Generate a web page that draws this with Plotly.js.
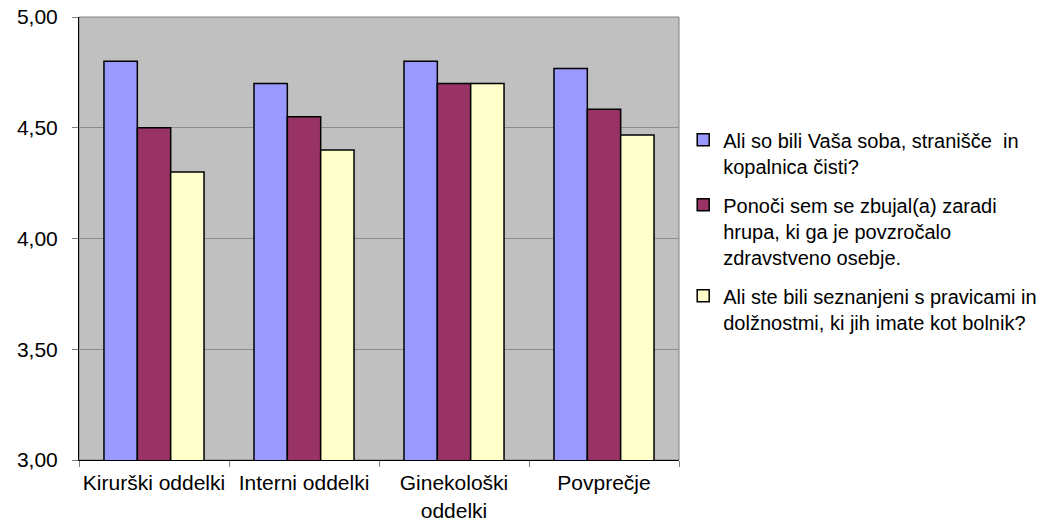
<!DOCTYPE html>
<html>
<head>
<meta charset="utf-8">
<script src="https://cdn.plot.ly/plotly-3.0.1.min.js"></script>
<style>html,body{margin:0;padding:0;background:#fff;}#chart{width:1046px;height:524px;}</style>
</head>
<body>
<div id="chart"></div>
<script>
const categories = ["Kirurški oddelki", "Interni oddelki", "Ginekološki<br>oddelki", "Povprečje"];
const seriesNames = [
  "Ali so bili Vaša soba, stranišče  in<br>kopalnica čisti?",
  "Ponoči sem se zbujal(a) zaradi<br>hrupa, ki ga je povzročalo<br>zdravstveno osebje.",
  "Ali ste bili seznanjeni s pravicami in<br>dolžnostmi, ki jih imate kot bolnik?"
];
const seriesClean = [4.80, 4.70, 4.80, 4.767];
const seriesNoise = [4.50, 4.55, 4.70, 4.583];
const seriesRights = [4.30, 4.40, 4.70, 4.467];
const colors = ["#9999FF", "#993366", "#FFFFCC"];

const allValues = [seriesClean, seriesNoise, seriesRights];
const traces = allValues.map((vals, i) => ({
  type: "bar",
  x: categories,
  y: vals,
  name: seriesNames[i],
  legendgroup: "g" + i,
  marker: {color: colors[i], line: {color: "#000000", width: 1.5}},
  hoverinfo: "y"
}));

const layout = {
  width: 1046, height: 524,
  margin: {l: 79, r: 367, t: 17, b: 64, autoexpand: false},
  paper_bgcolor: "#ffffff",
  plot_bgcolor: "#C0C0C0",
  separators: ",.",
  font: {family: "Liberation Sans, Arial, sans-serif", size: 20, color: "#000000"},
  bargap: 0.333, bargroupgap: 0,
  barmode: "group",
  xaxis: {
    showline: true, linecolor: "#000000", linewidth: 1,
    ticks: "outside", tickson: "boundaries", ticklen: 6, tickcolor: "#808080",
    ticklabelstandoff: 4, tickangle: 0,
    tickfont: {size: 21},
    showgrid: false, zeroline: false
  },
  yaxis: {
    range: [3, 5], dtick: 0.5, tickformat: ".2f",
    showline: true, linecolor: "#000000", linewidth: 1,
    ticks: "outside", ticklen: 6, tickcolor: "#808080",
    ticklabelstandoff: 10,
    gridcolor: "#8c8c8c", gridwidth: 1, zeroline: false,
    tickfont: {size: 21}
  },
  shapes: [{
    type: "rect", xref: "paper", yref: "paper", x0: 0, x1: 1, y0: 0, y1: 1,
    line: {color: "#808080", width: 1}, layer: "below"
  }],
  legend: {
    x: 1.007, xanchor: "left", y: 0.767, yanchor: "top",
    valign: "top", tracegroupgap: 10,
    font: {size: 20}, bgcolor: "rgba(0,0,0,0)"
  },
  showlegend: true
};

Plotly.newPlot("chart", traces, layout, {staticPlot: true});
</script>
</body>
</html>
